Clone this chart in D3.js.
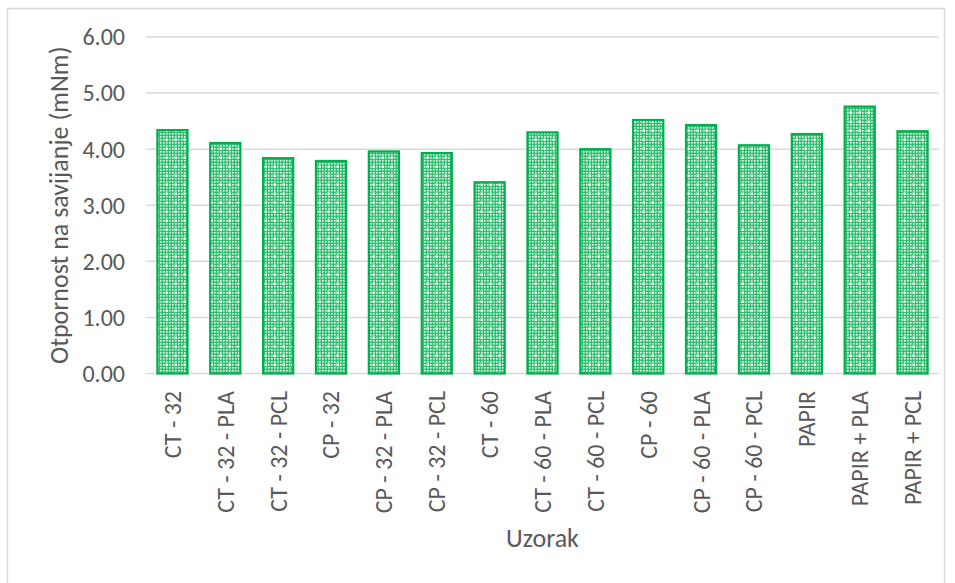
<!DOCTYPE html>
<html>
<head>
<meta charset="utf-8">
<script src="https://cdn.jsdelivr.net/npm/d3@7"></script>
<style>
  body { margin: 0; background: #fff; }
  text { font-family: Carlito, Calibri, Lato, sans-serif; fill: #595959; }
</style>
</head>
<body>
<svg id="chart" width="955" height="583"></svg>
<script>
var categories = ['CT - 32', 'CT - 32 - PLA', 'CT - 32 - PCL', 'CP - 32', 'CP - 32 - PLA',
  'CP - 32 - PCL', 'CT - 60', 'CT - 60 - PLA', 'CT - 60 - PCL', 'CP - 60',
  'CP - 60 - PLA', 'CP - 60 - PCL', 'PAPIR', 'PAPIR + PLA', 'PAPIR + PCL'];
var values = [4.34, 4.11, 3.84, 3.79, 3.96, 3.93, 3.41, 4.30, 4.00, 4.52, 4.43, 4.07, 4.27, 4.76, 4.32];
var yTicks = [0, 1, 2, 3, 4, 5, 6];
var yTitle = 'Otpornost na savijanje (mNm)';
var xTitle = 'Uzorak';

var svg = d3.select('#chart');
var margins = { top: 37, bottom: 209.5, left: 146, right: 16 };
var width = 955, height = 583;

// chart frame
svg.append('rect')
  .attr('x', 7.5).attr('y', 8.5)
  .attr('width', 937).attr('height', 600)
  .attr('fill', 'none')
  .attr('stroke', '#d9d9d9')
  .attr('stroke-width', 1.5);

// dotted-grid fill like the excel pattern
var defs = svg.append('defs');
var pat = defs.append('pattern')
  .attr('id', 'dots')
  .attr('patternUnits', 'userSpaceOnUse')
  .attr('width', 9).attr('height', 9);
pat.append('rect').attr('width', 9).attr('height', 9).attr('fill', '#33be72');
[0, 3, 6].forEach(function(i) {
  [0, 3, 6].forEach(function(j) {
    pat.append('rect').attr('x', i + 1).attr('y', j + 1)
      .attr('width', 1.6).attr('height', 1.6).attr('fill', '#e6f7ec');
  });
});
pat.append('rect').attr('x', 3.5).attr('y', 3.5).attr('width', 2.5).attr('height', 2.5).attr('fill', '#fff');

var x = d3.scaleBand()
  .domain(categories)
  .range([margins.left, width - margins.right])
  .paddingInner(0.43)
  .paddingOuter(0.215);

var y = d3.scaleLinear()
  .domain([0, 6])
  .range([height - margins.bottom, margins.top]);

// gridlines
svg.append('g')
  .selectAll('line')
  .data(yTicks)
  .enter()
  .append('line')
  .attr('x1', margins.left)
  .attr('x2', width - margins.right)
  .attr('y1', function(d) { return y(d); })
  .attr('y2', function(d) { return y(d); })
  .attr('stroke', '#d9d9d9')
  .attr('stroke-width', 1.5);

// y tick labels
svg.append('g')
  .selectAll('text')
  .data(yTicks)
  .enter()
  .append('text')
  .attr('x', 125)
  .attr('y', function(d) { return y(d); })
  .attr('dy', '0.35em')
  .attr('text-anchor', 'end')
  .attr('font-size', '24px')
  .text(function(d) { return d.toFixed(2); });

// bars
svg.append('g')
  .selectAll('rect')
  .data(values)
  .enter()
  .append('rect')
  .attr('x', function(d, i) { return x(categories[i]); })
  .attr('y', function(d) { return y(d); })
  .attr('width', x.bandwidth())
  .attr('height', function(d) { return y(0) - y(d); })
  .attr('fill', 'url(#dots)')
  .attr('stroke', '#00b050')
  .attr('stroke-width', 2.2);

// x labels
svg.append('g')
  .selectAll('text')
  .data(categories)
  .enter()
  .append('text')
  .attr('transform', function(d) {
    return 'translate(' + (x(d) + x.bandwidth() / 2) + ',391) rotate(-90)';
  })
  .attr('dy', '0.35em')
  .attr('text-anchor', 'end')
  .attr('font-size', '24px')
  .text(function(d) { return d; });

// axis titles
svg.append('text')
  .attr('transform', 'translate(68,' + ((y(0) + y(6)) / 2) + ') rotate(-90)')
  .attr('text-anchor', 'middle')
  .attr('font-size', '26px')
  .text(yTitle);

svg.append('text')
  .attr('x', (margins.left + width - margins.right) / 2)
  .attr('y', 547)
  .attr('text-anchor', 'middle')
  .attr('font-size', '26px')
  .text(xTitle);
</script>
</body>
</html>
